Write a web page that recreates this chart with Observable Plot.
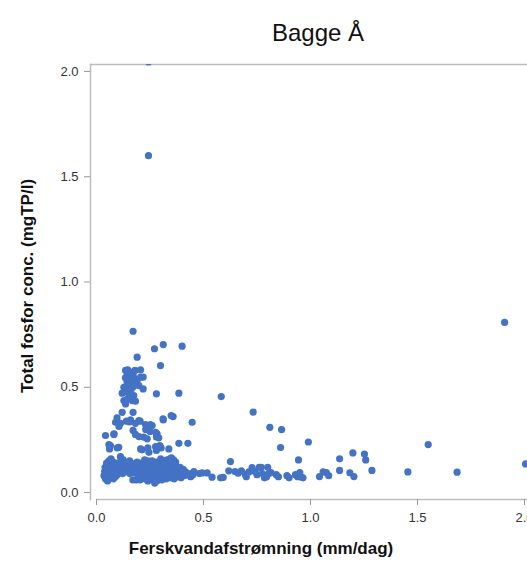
<!DOCTYPE html>
<html>
<head>
<meta charset="utf-8">
<script src="https://cdn.jsdelivr.net/npm/d3@7"></script>
<script src="https://cdn.jsdelivr.net/npm/@observablehq/plot@0.6"></script>
<style>
  html, body { margin: 0; padding: 0; background: #fff; }
  #chart svg { display: block; }
</style>
</head>
<body>
<div id="chart"></div>
<script>
const title = "Bagge Å";
const xLabel = "Ferskvandafstrømning (mm/dag)";
const yLabel = "Total fosfor conc. (mgTP/l)";
const xTicks = [0, 0.5, 1, 1.5, 2];
const yTicks = [0, 0.5, 1, 1.5, 2];

// [flow mm/dag, total P mg/l]
const outliers = [[0.243,2.045],[0.243,1.60],[1.907,0.808],[2.005,0.136]];

const peakCluster = [
  [0.171,0.766],[0.271,0.683],[0.312,0.703],[0.400,0.695],[0.190,0.643],[0.299,0.603],[0.206,0.583],
  [0.136,0.580],[0.146,0.583],[0.156,0.572],[0.143,0.556],[0.159,0.548],[0.171,0.560],[0.182,0.540],
  [0.206,0.548],[0.218,0.548],[0.143,0.524],[0.167,0.516],[0.190,0.532],[0.128,0.500],[0.151,0.497],
  [0.171,0.503],[0.198,0.508],[0.218,0.492],[0.140,0.477],[0.120,0.472],[0.156,0.469],[0.174,0.461],
  [0.128,0.437],[0.167,0.437],[0.136,0.421],[0.182,0.434],[0.280,0.469],[0.385,0.472],[0.583,0.456],
  [0.150,0.560],[0.160,0.530],[0.135,0.545],[0.175,0.520],[0.148,0.510],[0.162,0.490],[0.180,0.580],
  [0.158,0.455],[0.145,0.445]
];

const midCluster = [
  [0.120,0.381],[0.171,0.381],[0.089,0.334],[0.096,0.355],[0.112,0.329],[0.140,0.339],[0.159,0.345],
  [0.182,0.329],[0.204,0.339],[0.229,0.323],[0.252,0.323],[0.260,0.318],[0.312,0.345],[0.358,0.361],
  [0.447,0.334],[0.081,0.276],[0.171,0.295],[0.182,0.276],[0.198,0.266],[0.221,0.263],[0.237,0.255],
  [0.283,0.279],[0.291,0.260],[0.065,0.223],[0.104,0.215],[0.206,0.207],[0.240,0.212],[0.276,0.218],
  [0.302,0.212],[0.385,0.234],[0.427,0.234],[0.097,0.212],[0.245,0.191],[0.280,0.200],[0.296,0.223],
  [0.338,0.207],[0.213,0.203],[0.349,0.366],[0.311,0.350],[0.042,0.271],[0.058,0.228],[0.061,0.207],
  [0.112,0.171],[0.082,0.279],[0.105,0.314],[0.154,0.335],[0.198,0.342],[0.230,0.300],[0.250,0.290],
  [0.276,0.286],[0.280,0.264]
];

const lowBandLeft = [
  [0.035,0.08],[0.038,0.10],[0.040,0.12],[0.042,0.065],[0.045,0.09],[0.047,0.14],[0.048,0.11],[0.050,0.075],
  [0.052,0.055],[0.053,0.13],[0.055,0.10],[0.057,0.085],[0.058,0.15],[0.060,0.12],[0.062,0.07],[0.063,0.105],
  [0.065,0.135],[0.067,0.09],[0.068,0.16],[0.070,0.115],[0.072,0.08],[0.074,0.13],[0.075,0.10],[0.077,0.145],
  [0.079,0.065],[0.080,0.12],[0.082,0.09],[0.084,0.11],[0.086,0.14],[0.088,0.075],[0.090,0.13],[0.092,0.10],
  [0.095,0.12],[0.097,0.085],[0.100,0.14],[0.103,0.11],[0.105,0.095]
];

const lowBandMid = [
  [0.108,0.13],[0.112,0.105],[0.115,0.16],[0.118,0.12],[0.122,0.09],[0.125,0.14],[0.130,0.11],[0.135,0.125],
  [0.140,0.10],[0.145,0.135],[0.150,0.115],[0.155,0.09],[0.158,0.13],[0.162,0.14],[0.165,0.11],[0.170,0.06],
  [0.172,0.125],[0.178,0.095],[0.180,0.135],[0.185,0.06],[0.188,0.11],[0.192,0.13],[0.195,0.085],[0.200,0.12],
  [0.203,0.06],[0.207,0.10],[0.210,0.14],[0.215,0.075],[0.218,0.115],
  [0.225,0.155],[0.260,0.15],[0.300,0.16],[0.330,0.155],[0.350,0.165],[0.360,0.155],[0.370,0.145],
  [0.280,0.145],[0.240,0.15],[0.190,0.145],[0.155,0.15],[0.125,0.155]
];

const lowBandDense = [
  [0.222,0.09],[0.225,0.13],[0.228,0.065],[0.232,0.105],[0.235,0.08],[0.238,0.12],[0.240,0.055],[0.243,0.095],
  [0.246,0.14],[0.248,0.075],[0.250,0.11],[0.253,0.065],[0.256,0.09],[0.258,0.125],[0.260,0.08],[0.263,0.10],
  [0.265,0.06],[0.268,0.115],[0.270,0.085],[0.272,0.045],[0.275,0.13],[0.277,0.07],[0.280,0.10],[0.282,0.055],
  [0.285,0.09],[0.287,0.12],[0.290,0.075],[0.292,0.105],[0.295,0.065],[0.298,0.14],[0.300,0.085],[0.303,0.115],
  [0.305,0.06],[0.308,0.095],[0.310,0.13],[0.313,0.075],[0.316,0.105],[0.318,0.15],[0.320,0.085],[0.323,0.12],
  [0.326,0.065],[0.330,0.10],[0.333,0.135],[0.336,0.08],[0.340,0.11],[0.343,0.16],[0.346,0.07],[0.350,0.095],
  [0.353,0.125],[0.356,0.085],[0.360,0.105],[0.363,0.065],[0.366,0.14],[0.370,0.09],[0.373,0.115],[0.377,0.075],
  [0.380,0.10],[0.385,0.085],[0.390,0.12],[0.395,0.07],[0.400,0.095],[0.405,0.11],[0.410,0.08],[0.415,0.10],
  [0.420,0.085],[0.430,0.09],[0.440,0.075],[0.450,0.085],[0.455,0.10]
];

const lowBandRight = [
  [0.480,0.09],[0.494,0.093],[0.517,0.093],[0.540,0.073],[0.580,0.07],[0.592,0.072],[0.618,0.103],
  [0.647,0.10],[0.662,0.092],[0.677,0.103],[0.696,0.085],[0.712,0.098],[0.727,0.118],[0.700,0.075],
  [0.740,0.10],[0.750,0.085],[0.760,0.12],[0.770,0.12],[0.775,0.09],[0.785,0.07],[0.795,0.075],[0.800,0.12],
  [0.805,0.09],[0.815,0.095],[0.840,0.085],[0.850,0.075],[0.890,0.08],[0.900,0.07],[0.930,0.085],
  [0.940,0.075],[0.955,0.075],[0.965,0.07]
];

const rightSparse = [
  [0.626,0.147],[0.732,0.382],[0.810,0.310],[0.865,0.299],[0.860,0.214],[0.990,0.240],[0.944,0.155],
  [1.136,0.160],[1.198,0.188],[1.252,0.183],[1.258,0.155],[1.550,0.228],[1.136,0.105],[1.184,0.094],
  [1.203,0.076],[1.287,0.105],[1.455,0.098],[1.685,0.097],[1.042,0.076],[1.059,0.098],[1.074,0.095],
  [1.085,0.080],[0.953,0.076],[0.950,0.095]
];

const points = [...outliers, ...peakCluster, ...midCluster, ...lowBandLeft, ...lowBandMid,
  ...lowBandDense, ...lowBandRight, ...rightSparse].map(([x, y]) => ({x, y}));

const xDomain = [-0.028, 2.014];
const yDomain = [-0.033, 2.033];
const axisColor = "#bdbdbd";
const font = "'Liberation Sans', Arial, sans-serif";

const chart = Plot.plot({
  width: 527,
  height: 570,
  marginLeft: 90,
  marginRight: 0,
  marginTop: 64,
  marginBottom: 71,
  x: {domain: xDomain},
  y: {domain: yDomain},
  style: {fontFamily: font, fontSize: "13px", color: "#333", background: "#fff", overflow: "visible"},
  marks: [
    Plot.frame({anchor: "top", stroke: axisColor, strokeWidth: 1.5}),
    Plot.frame({anchor: "left", stroke: axisColor, strokeWidth: 1.5}),
    Plot.ruleY([yDomain[0]], {x1: 0, x2: xDomain[1], stroke: axisColor, strokeWidth: 1.5}),
    Plot.axisY({ticks: yTicks, tickFormat: d3.format(".1f"), tickSize: 6, tickPadding: 6,
      stroke: "#999", fill: "#333", label: null, fontSize: 13}),
    Plot.axisX({ticks: xTicks, tickFormat: d3.format(".1f"), tickSize: 6, tickPadding: 7,
      stroke: "#999", fill: "#333", label: null, fontSize: 13}),
    Plot.dot(points, {x: "x", y: "y", r: 3.6, fill: "#4472c4", stroke: "none", clip: true}),
    Plot.text([title], {frameAnchor: "top", lineAnchor: "middle", textAnchor: "middle",
      dx: 9, dy: -31, fontSize: 24, fill: "#111"}),
    Plot.text([xLabel], {frameAnchor: "bottom", lineAnchor: "middle", textAnchor: "middle",
      dx: -48, dy: 49, fontSize: 17, fontWeight: "bold", fill: "#111"}),
    Plot.text([yLabel], {frameAnchor: "left", lineAnchor: "middle", textAnchor: "middle",
      dx: -63, dy: 4, rotate: -90, fontSize: 17, fontWeight: "bold", fill: "#111"})
  ]
});
document.getElementById("chart").append(chart);
</script>
</body>
</html>
